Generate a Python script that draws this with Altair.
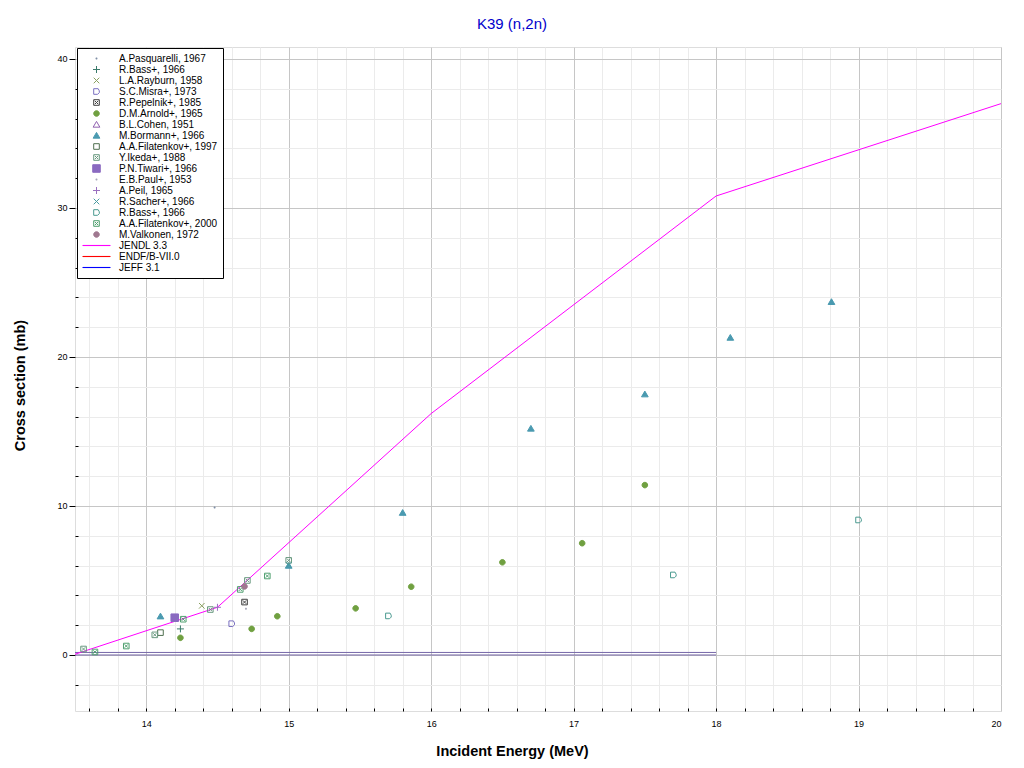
import altair as alt
import pandas as pd

# ---------------- data ----------------
SERIES = [
    "A.Pasquarelli, 1967", "R.Bass+, 1966", "L.A.Rayburn, 1958", "S.C.Misra+, 1973",
    "R.Pepelnik+, 1985", "D.M.Arnold+, 1965", "B.L.Cohen, 1951", "M.Bormann+, 1966",
    "A.A.Filatenkov+, 1997", "Y.Ikeda+, 1988", "P.N.Tiwari+, 1966", "E.B.Paul+, 1953",
    "A.Peil, 1965", "R.Sacher+, 1966", "R.Bass+, 1966 ", "A.A.Filatenkov+, 2000",
    "M.Valkonen, 1972", "JENDL 3.3", "ENDF/B-VII.0", "JEFF 3.1",
]

pasq_E, pasq_xs = [14.48], [9.9]
bass1_E, bass1_xs = [14.24], [1.75]
rayb_E, rayb_xs = [14.39], [3.3]
misra_E, misra_xs = [14.6], [2.1]
pepel_E, pepel_xs = [14.69], [3.55]
arnold_E = [14.24, 14.74, 14.92, 15.47, 15.86, 16.5, 17.06, 17.5]
arnold_xs = [1.15, 1.75, 2.6, 3.13, 4.58, 6.22, 7.5, 11.4]
cohen_E, cohen_xs = [], []
borm_E = [14.1, 15.0, 15.8, 16.7, 17.5, 18.1, 18.81]
borm_xs = [2.6, 6.0, 9.55, 15.2, 17.5, 21.3, 23.7]
fil97_E, fil97_xs = [14.1], [1.5]
ikeda_E = [13.56, 14.06, 14.45, 14.71, 15.0]
ikeda_xs = [0.4, 1.35, 3.05, 5.0, 6.35]
tiwari_E, tiwari_xs = [14.2], [2.5]
paul_E, paul_xs = [14.7], [3.1]
peil_E, peil_xs = [14.5], [3.2]
sacher_E, sacher_xs = [15.0], [6.05]
bass2_E, bass2_xs = [15.7, 17.7, 19.0], [2.62, 5.37, 9.06]
fil00_E = [13.64, 13.86, 14.26, 14.66, 14.85]
fil00_xs = [0.2, 0.6, 2.4, 4.4, 5.3]
valk_E, valk_xs = [14.69], [4.6]

jendl_E = [13.5, 14.5, 16.0, 18.0, 20.0]
jendl_xs = [0.05, 3.2, 16.2, 30.8, 37.0]
endf_E, endf_xs = [13.5, 18.0], [0.17, 0.17]
jeff_E, jeff_xs = [13.5, 18.0], [0.0, 0.0]

X_TICKS = [14, 15, 16, 17, 18, 19, 20]
Y_TICKS = [0, 10, 20, 30, 40]
X_MINOR = [round(13.6 + 0.2 * i, 1) for i in range(32)]
Y_MINOR = [v for v in range(-2, 41, 2) if v % 10 != 0]

# ---------------- styles ----------------
def circ(r):
    return f"M{r},0A{r},{r},0,1,1,{-r},0A{r},{r},0,1,1,{r},0Z"

PATHS = {
    "dot": circ(0.07),
    "plus": "M-0.25,0H0.25M0,-0.25V0.25",
    "x": "M-0.2,-0.2L0.2,0.2M-0.2,0.2L0.2,-0.2",
    "shield": "M-0.2,-0.2H0.12L0.2,-0.05V0.08L0.08,0.2H-0.2Z",
    "boxx": "M-0.2,-0.2H0.2V0.2H-0.2ZM-0.12,-0.12L0.12,0.12M-0.12,0.12L0.12,-0.12",
    "circle": circ(0.2),
    "tri": "M0,-0.22L0.24,0.19H-0.24Z",
    "square": "M-0.2,-0.2H0.2V0.2H-0.2Z",
    "bigsquare": "M-0.27,-0.27H0.27V0.27H-0.27Z",
    "line": "M-1,-0.04H1V0.04H-1Z",
}
T = "transparent"
STYLE = [  # marker, fill, stroke
    ("dot", "#7f8fa6", T),
    ("plus", T, "#3a7a6a"),
    ("x", T, "#8aa060"),
    ("shield", T, "#7a70c0"),
    ("boxx", T, "#404040"),
    ("circle", "#70a040", "#70a040"),
    ("tri", T, "#9060b0"),
    ("tri", "#4a9ab0", "#4a9ab0"),
    ("square", T, "#507050"),
    ("boxx", T, "#6a9a80"),
    ("bigsquare", "#8a6ac0", "#8a6ac0"),
    ("dot", "#a8a8b8", T),
    ("plus", T, "#9a70c0"),
    ("x", T, "#4a9aa0"),
    ("shield", T, "#4a9a90"),
    ("boxx", T, "#50a070"),
    ("circle", "#a07890", "#a07890"),
    ("line", "#ff00ff", T),
    ("line", "#ff0000", T),
    ("line", "#0000ff", T),
]
SHAPES = [PATHS[s[0]] for s in STYLE]
FILLS = [s[1] for s in STYLE]
STROKES = [s[2] for s in STYLE]

# ---------------- tables ----------------
pts = []
for name, E, xs in [
    (SERIES[0], pasq_E, pasq_xs), (SERIES[1], bass1_E, bass1_xs), (SERIES[2], rayb_E, rayb_xs),
    (SERIES[3], misra_E, misra_xs), (SERIES[4], pepel_E, pepel_xs), (SERIES[5], arnold_E, arnold_xs),
    (SERIES[6], cohen_E, cohen_xs), (SERIES[7], borm_E, borm_xs), (SERIES[8], fil97_E, fil97_xs),
    (SERIES[9], ikeda_E, ikeda_xs), (SERIES[10], tiwari_E, tiwari_xs), (SERIES[11], paul_E, paul_xs),
    (SERIES[12], peil_E, peil_xs), (SERIES[13], sacher_E, sacher_xs), (SERIES[14], bass2_E, bass2_xs),
    (SERIES[15], fil00_E, fil00_xs), (SERIES[16], valk_E, valk_xs),
]:
    for e, v in zip(E, xs):
        pts.append({"E": e, "xs": v, "series": name})
pts_df = pd.DataFrame(pts)
jendl_df = pd.DataFrame({"E": jendl_E, "xs": jendl_xs})
flat_df = pd.DataFrame({
    "E": endf_E + jeff_E,
    "xs": endf_xs + jeff_xs,
    "lib": ["ENDF"] * len(endf_E) + ["JEFF"] * len(jeff_E),
})

FONT = "Liberation Sans"
xscale = alt.Scale(domain=[13.5, 20], nice=False, zero=False)
yscale = alt.Scale(domain=[-3.76, 40.8], nice=False, zero=False)

x_minor_grid = alt.Axis(values=X_MINOR, grid=True, gridColor="#ebebeb", ticks=False, labels=False,
                        domain=False, title=None, orient="bottom")
y_minor_grid = alt.Axis(values=Y_MINOR, grid=True, gridColor="#ebebeb", ticks=False, labels=False,
                        domain=False, title=None, orient="left")
x_minor_tick = alt.Axis(values=X_MINOR, grid=False, ticks=True, tickSize=3, tickColor="#000000",
                        labels=False, domain=False, title=None, orient="bottom", offset=-3)
y_minor_tick = alt.Axis(values=Y_MINOR, grid=False, ticks=True, tickSize=3, tickColor="#000000",
                        labels=False, domain=False, title=None, orient="left", offset=-3)
x_major = alt.Axis(values=X_TICKS, grid=True, gridColor="#c6c6c6", tickSize=0, format="d",
                   labelFont=FONT, labelFontSize=9, labelColor="#000000", labelPadding=8,
                   domain=False, orient="bottom",
                   title="Incident Energy (MeV)", titleFont=FONT, titleFontSize=14.5,
                   titleFontWeight="bold", titleColor="#000000", titleX=437, titleY=44,
                   titleBaseline="alphabetic", titleAlign="center")
y_major = alt.Axis(values=Y_TICKS, grid=True, gridColor="#c6c6c6", tickSize=6, tickColor="#000000",
                   format="d", labelFont=FONT, labelFontSize=9, labelColor="#000000", labelPadding=2,
                   domain=False, orient="left",
                   title="Cross section (mb)", titleFont=FONT, titleFontSize=14.5,
                   titleFontWeight="bold", titleColor="#000000", titleX=-55, titleY=338,
                   titleAngle=270, titleBaseline="middle", titleAlign="center")

leg = alt.Legend(title=None, orient="none", legendX=2, legendY=1, padding=5, clipHeight=11,
                 rowPadding=0, symbolSize=784, symbolStrokeWidth=1, labelOffset=8,
                 labelFont=FONT, labelFontSize=10, labelColor="#000000",
                 strokeColor="#000000", fillColor="#ffffff", symbolLimit=40)

flat = alt.Chart(flat_df).mark_line(strokeWidth=1, color="#7566a8", clip=True).encode(
    x=alt.X("E:Q", scale=xscale, axis=x_minor_grid),
    y=alt.Y("xs:Q", scale=yscale, axis=y_minor_grid),
    detail="lib:N",
)
jendl = alt.Chart(jendl_df).mark_line(strokeWidth=1, color="#ff00ff", clip=True).encode(
    x=alt.X("E:Q", scale=xscale, axis=x_minor_tick),
    y=alt.Y("xs:Q", scale=yscale, axis=y_minor_tick),
)
points = alt.Chart(pts_df).mark_point(size=784, strokeWidth=1, opacity=1, clip=True).encode(
    x=alt.X("E:Q", scale=xscale, axis=x_major),
    y=alt.Y("xs:Q", scale=yscale, axis=y_major),
    fill=alt.Fill("series:N", scale=alt.Scale(domain=SERIES, range=FILLS), legend=leg),
    stroke=alt.Stroke("series:N", scale=alt.Scale(domain=SERIES, range=STROKES), legend=leg),
    shape=alt.Shape("series:N", scale=alt.Scale(domain=SERIES, range=SHAPES), legend=leg),
)

chart = alt.layer(flat, jendl, points).resolve_axis(x="independent", y="independent").properties(
    width=926, height=664,
    title=alt.Title("K39 (n,2n)", font=FONT, fontSize=15, fontWeight="normal", color="#0000cc",
                    anchor="middle", dx=-26, offset=3, baseline="alphabetic"),
    autosize=alt.AutoSizeParams(type="none"),
    padding={"left": 67, "top": 39, "right": 15, "bottom": 49},
).configure_view(stroke="#000000", strokeWidth=1).configure(background="#ffffff")

chart.save("out.html", embed_options={"renderer": "svg", "actions": False})
